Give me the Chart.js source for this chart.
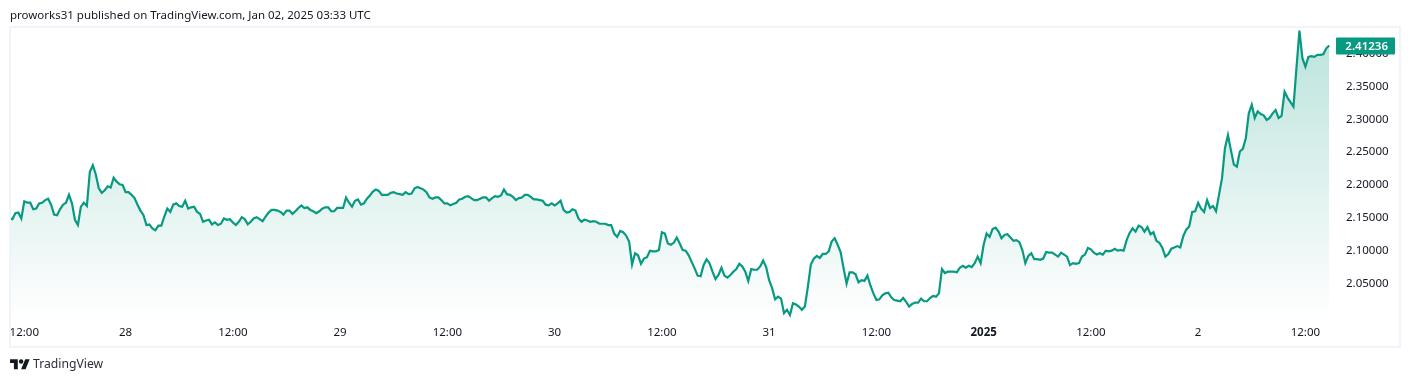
<!DOCTYPE html>
<html>
<head>
<meta charset="utf-8">
<style>
  html, body { margin: 0; padding: 0; background: #fff; width: 1410px; height: 382px; overflow: hidden; }
  body { position: relative; font-family: "Noto Sans", sans-serif; color: #131722; }
  #wrap { position: absolute; left: 0; top: 0; width: 1410px; height: 382px; }
  #frame { position: absolute; left: 9px; top: 26px; width: 1388px; height: 318px; border: 2px solid #F0F3FA; pointer-events: none; }
  #pub { position: absolute; left: 10px; top: 6px; font-size: 11.5px; line-height: 17px; color: #131722; white-space: nowrap; }
  #brand { position: absolute; left: 33px; top: 355px; font-size: 12.2px; line-height: 18px; color: #2a2e39; }
  #logo { position: absolute; left: 10px; top: 357px; }
</style>
</head>
<body>
<div id="wrap"><canvas id="c" width="1410" height="382"></canvas></div>
<div id="frame"></div>
<div id="pub">proworks31 published on TradingView.com, Jan 02, 2025 03:33 UTC</div>
<svg id="logo" width="20" height="15.5" viewBox="0 0 36 28"><path fill="#131722" d="M14 22H7V11H0V4h14v18zM28 22h-8l7.5-18h8L28 22z"/><circle fill="#131722" cx="20" cy="8" r="4"/></svg>
<div id="brand">TradingView</div>
<script src="https://cdn.jsdelivr.net/npm/chart.js@4"></script>
<script>
// Price samples, one every 20 minutes
const pricesDec27 = [2.149,2.148,2.157,2.158,2.149,2.175,2.173,2.173,2.163,2.164,2.172,2.173,2.177,2.179,2.170,2.155,2.154,2.163,2.170,2.173,2.185,2.172,2.147,2.139,2.167,2.173,2.168,2.220,2.230,2.216,2.195,2.188,2.192,2.198,2.196,2.211,2.205,2.201,2.200];
const pricesDec28 = [2.189,2.189,2.185,2.180,2.170,2.161,2.154,2.139,2.140,2.134,2.131,2.138,2.138,2.152,2.164,2.159,2.170,2.172,2.168,2.167,2.176,2.164,2.166,2.167,2.159,2.156,2.144,2.146,2.147,2.140,2.143,2.139,2.141,2.149,2.147,2.148,2.143,2.139,2.144,2.151,2.148,2.140,2.144,2.149,2.151,2.148,2.145,2.152,2.158,2.162,2.162,2.161,2.159,2.155,2.161,2.161,2.156,2.160,2.165,2.169,2.165,2.166,2.162,2.160,2.157,2.160,2.164,2.166,2.166,2.160,2.160,2.165];
const pricesDec29 = [2.165,2.165,2.181,2.173,2.167,2.176,2.178,2.170,2.172,2.179,2.184,2.190,2.193,2.191,2.185,2.185,2.185,2.188,2.189,2.187,2.186,2.185,2.189,2.186,2.187,2.195,2.197,2.195,2.193,2.189,2.181,2.179,2.181,2.181,2.177,2.172,2.172,2.169,2.171,2.173,2.178,2.179,2.182,2.183,2.180,2.177,2.177,2.179,2.181,2.181,2.176,2.180,2.183,2.182,2.184,2.193,2.186,2.185,2.182,2.177,2.180,2.181,2.185,2.185,2.182,2.178,2.178,2.177,2.176,2.170,2.169,2.172];
const pricesDec30 = [2.169,2.172,2.176,2.162,2.158,2.159,2.163,2.161,2.149,2.144,2.147,2.146,2.144,2.145,2.144,2.141,2.141,2.141,2.139,2.139,2.126,2.121,2.130,2.128,2.123,2.114,2.079,2.096,2.093,2.080,2.088,2.090,2.100,2.099,2.099,2.101,2.128,2.126,2.111,2.109,2.112,2.120,2.111,2.101,2.100,2.093,2.083,2.073,2.062,2.061,2.078,2.087,2.081,2.068,2.057,2.063,2.074,2.062,2.059,2.063,2.068,2.072,2.080,2.076,2.068,2.054,2.072,2.071];
const pricesDec31 = [2.071,2.076,2.085,2.075,2.055,2.043,2.026,2.030,2.027,2.005,2.010,2.002,2.020,2.018,2.015,2.010,2.015,2.045,2.079,2.088,2.092,2.089,2.095,2.095,2.099,2.114,2.119,2.109,2.098,2.073,2.050,2.067,2.067,2.064,2.052,2.055,2.054,2.062,2.047,2.035,2.025,2.026,2.032,2.035,2.036,2.029,2.025,2.024,2.023,2.028,2.022,2.015,2.019,2.021,2.021,2.027,2.023,2.023,2.028,2.031,2.030,2.035];
const pricesJan01 = [2.072,2.066,2.068,2.068,2.068,2.067,2.074,2.077,2.074,2.077,2.075,2.081,2.091,2.081,2.109,2.126,2.121,2.133,2.135,2.129,2.119,2.124,2.125,2.120,2.115,2.116,2.113,2.101,2.081,2.092,2.096,2.087,2.087,2.086,2.088,2.098,2.097,2.097,2.094,2.091,2.097,2.094,2.091,2.078,2.081,2.080,2.081,2.091,2.094,2.104,2.102,2.097,2.094,2.096,2.094,2.100,2.099,2.100,2.103,2.100,2.101,2.100];
const pricesJan02 = [2.116,2.127,2.134,2.129,2.138,2.136,2.129,2.136,2.125,2.128,2.115,2.112,2.104,2.091,2.095,2.103,2.105,2.107,2.105,2.122,2.132,2.137,2.159,2.160,2.173,2.164,2.159,2.177,2.165,2.168,2.160,2.185,2.210,2.256,2.276,2.253,2.231,2.228,2.251,2.255,2.271,2.309,2.322,2.302,2.312,2.308,2.306,2.299,2.302,2.309,2.314,2.302,2.305,2.342,2.333,2.326,2.319,2.378,2.435,2.393,2.380,2.395,2.396,2.395,2.398,2.398,2.399,2.408,2.41236];
const prices = [].concat(pricesDec27, pricesDec28, pricesDec29, pricesDec30, pricesDec31, pricesJan01, pricesJan02);

const timeLabels = ['12:00','28','12:00','29','12:00','30','12:00','31','12:00','2025','12:00','2','12:00'];
// sample index under each time label (the first label is pushed in from the left edge, as in the source)
const timeTickIndex = [5,39,75,111,147,183,219,255,291,327,363,399,435];
const priceTicks = [2.05,2.10,2.15,2.20,2.25,2.30,2.35,2.40];

const GREEN = '#089981';
const TEXT = '#131722';
const FONT = '"Noto Sans", sans-serif';

const lastPriceBadge = {
  id: 'lastPriceBadge',
  afterDraw(chart) {
    const { ctx } = chart;
    const v = prices[prices.length - 1];
    const y = chart.scales.y.getPixelForValue(v);
    ctx.save();
    ctx.fillStyle = GREEN;
    ctx.beginPath();
    ctx.roundRect(1336, y - 8, 59, 17, 1);
    ctx.fill();
    ctx.fillStyle = '#ffffff';
    ctx.font = '600 11.5px ' + FONT;
    ctx.textAlign = 'right';
    ctx.textBaseline = 'middle';
    ctx.fillText(v.toFixed(5), 1388, y + 1);
    ctx.restore();
  }
};

new Chart(document.getElementById('c'), {
  type: 'line',
  data: {
    datasets: [{
      data: prices.map((p, i) => ({ x: i, y: p })),
      borderColor: GREEN,
      borderWidth: 2.2,
      pointRadius: 0,
      tension: 0,
      fill: 'start',
      backgroundColor(ctx) {
        const a = ctx.chart.chartArea;
        if (!a) return 'rgba(8,153,129,0.1)';
        const g = ctx.chart.ctx.createLinearGradient(0, a.top, 0, a.bottom);
        g.addColorStop(0, 'rgba(8,153,129,0.28)');
        g.addColorStop(1, 'rgba(8,153,129,0)');
        return g;
      }
    }]
  },
  options: {
    responsive: false,
    animation: false,
    layout: { padding: { left: 9.4, top: 28, right: 0, bottom: 0 } },
    plugins: { legend: { display: false }, tooltip: { enabled: false }, title: { display: false } },
    scales: {
      x: {
        type: 'linear',
        min: 0,
        max: 444.6,
        grid: { display: false, drawTicks: false },
        border: { display: false },
        afterBuildTicks(axis) { axis.ticks = timeTickIndex.map(v => ({ value: v })); },
        afterFit(axis) { axis.height = 62; },
        ticks: {
          autoSkip: false,
          maxRotation: 0,
          padding: 6,
          color: TEXT,
          font(ctx) { return { family: FONT, size: 11.5, weight: ctx.index === 9 ? '700' : '400' }; },
          callback(value, index) { return timeLabels[index]; }
        }
      },
      y: {
        position: 'right',
        min: 1.9945,
        max: 2.4389,
        grid: { display: false, drawTicks: false },
        border: { display: false },
        afterBuildTicks(axis) { axis.ticks = priceTicks.map(v => ({ value: v })); },
        afterFit(axis) { axis.width = 76; },
        ticks: {
          padding: 12,
          color: TEXT,
          font: { family: FONT, size: 11.5 },
          callback(value) { return Number(value).toFixed(5); }
        }
      }
    }
  },
  plugins: [lastPriceBadge]
});
</script>
</body>
</html>
